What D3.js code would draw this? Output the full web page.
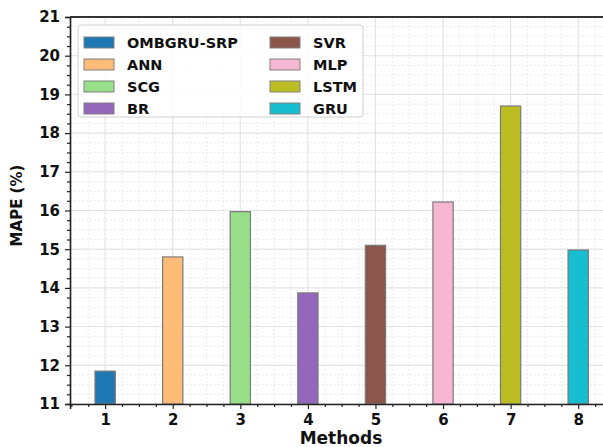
<!DOCTYPE html>
<html>
<head>
<meta charset="utf-8">
<script src="https://cdn.jsdelivr.net/npm/d3@7"></script>
<style>
  body { margin: 0; background: #fff; }
  svg { display: block; font-family: "DejaVu Sans", sans-serif; font-weight: bold; }
</style>
</head>
<body>
<svg width="603" height="447"></svg>
<script>
const methods = [1, 2, 3, 4, 5, 6, 7, 8];
const names = ["OMBGRU-SRP", "ANN", "SCG", "BR", "SVR", "MLP", "LSTM", "GRU"];
const mape = [11.85, 14.8, 15.97, 13.87, 15.1, 16.22, 18.7, 14.98];
const colors = ["#1f77b4", "#ffbb78", "#98df8a", "#9467bd", "#8c564b", "#f7b6d2", "#bcbd22", "#17becf"];
const yTicks = [11, 12, 13, 14, 15, 16, 17, 18, 19, 20, 21];

const margin = { top: 17, right: -9, bottom: 43, left: 70 },
      width = 603 - margin.left - margin.right,
      height = 447 - margin.top - margin.bottom;

const svg = d3.select("svg")
  .append("g")
  .attr("transform", `translate(${margin.left},${margin.top})`);

const x = d3.scaleLinear().domain([0.48, 8.5]).range([0, width]);
const y = d3.scaleLinear().domain([11, 21]).range([height, 0]);

// minor grid
const xMinor = d3.range(0.5, 8.51, 0.25);
const yMinor = d3.range(11, 21.01, 0.25);
svg.append("g").selectAll("line").data(xMinor).join("line")
  .attr("x1", d => x(d)).attr("x2", d => x(d)).attr("y1", 0).attr("y2", height)
  .attr("stroke", "#e4e4ec").attr("stroke-width", 0.8).attr("stroke-dasharray", "2,2");
svg.append("g").selectAll("line").data(yMinor).join("line")
  .attr("y1", d => y(d)).attr("y2", d => y(d)).attr("x1", 0).attr("x2", width)
  .attr("stroke", "#e4e4ec").attr("stroke-width", 0.8).attr("stroke-dasharray", "2,2");
// major grid
svg.append("g").selectAll("line").data(methods).join("line")
  .attr("x1", d => x(d)).attr("x2", d => x(d)).attr("y1", 0).attr("y2", height)
  .attr("stroke", "#dcdce4").attr("stroke-width", 0.8);
svg.append("g").selectAll("line").data(yTicks).join("line")
  .attr("y1", d => y(d)).attr("y2", d => y(d)).attr("x1", 0).attr("x2", width)
  .attr("stroke", "#dcdce4").attr("stroke-width", 0.8);

// bars
const bw = x(1.15) - x(0.85);
svg.selectAll(".bar").data(methods).join("rect")
  .attr("class", "bar")
  .attr("x", d => x(d) - bw / 2)
  .attr("y", (d, i) => y(mape[i]))
  .attr("width", bw)
  .attr("height", (d, i) => height - y(mape[i]))
  .attr("fill", (d, i) => colors[i])
  .attr("stroke", "#7a7a7a")
  .attr("stroke-width", 1.2);

// axes
svg.append("g")
  .attr("transform", `translate(0,${height})`)
  .call(d3.axisBottom(x).tickValues(methods).tickFormat(d3.format("d")).tickSize(5).tickPadding(5));
svg.append("g")
  .attr("transform", `translate(0,${height})`)
  .call(d3.axisBottom(x).tickValues(xMinor.filter(d => !Number.isInteger(d))).tickFormat("").tickSize(3))
  .call(g => g.select(".domain").remove());
svg.append("g")
  .call(d3.axisLeft(y).tickValues(yTicks).tickFormat(d3.format("d")).tickSize(5).tickPadding(5));
svg.append("g")
  .call(d3.axisLeft(y).tickValues(yMinor.filter(d => !Number.isInteger(d))).tickFormat("").tickSize(3))
  .call(g => g.select(".domain").remove());

svg.selectAll(".tick line").attr("stroke", "#222").attr("stroke-width", 1.2);
svg.selectAll(".domain").attr("stroke", "#222").attr("stroke-width", 1.6);
svg.selectAll(".tick text").attr("font-size", 15).attr("font-weight", "bold")
  .attr("font-family", "DejaVu Sans").attr("fill", "#111");

// top spine
svg.append("line").attr("x1", 0).attr("x2", width).attr("y1", 0).attr("y2", 0)
  .attr("stroke", "#333").attr("stroke-width", 1.8);

// labels
svg.append("text")
  .attr("x", 271).attr("y", height + 40)
  .attr("text-anchor", "middle").attr("font-size", 17).attr("fill", "#111")
  .text("Methods");
svg.append("text")
  .attr("transform", `translate(${-48},${height / 2 - 5}) rotate(-90)`)
  .attr("text-anchor", "middle").attr("font-size", 15).attr("fill", "#111")
  .text("MAPE (%)");

// legend
const legend = svg.append("g").attr("transform", "translate(8,8)");
legend.append("rect")
  .attr("width", 285).attr("height", 92).attr("rx", 3)
  .attr("fill", "#fff").attr("fill-opacity", 0.85)
  .attr("stroke", "#d0d0d0");
const item = legend.selectAll(".item").data(names).join("g")
  .attr("class", "item")
  .attr("transform", (d, i) => `translate(${i < 4 ? 6 : 192},${12 + (i % 4) * 22})`);
item.append("rect")
  .attr("width", 30).attr("height", 11)
  .attr("fill", (d, i) => colors[i])
  .attr("stroke", "#808080");
item.append("text")
  .attr("x", 43).attr("y", 5.5).attr("dy", "0.35em")
  .attr("font-size", 14.5).attr("fill", "#111")
  .text(d => d);
</script>
</body>
</html>
